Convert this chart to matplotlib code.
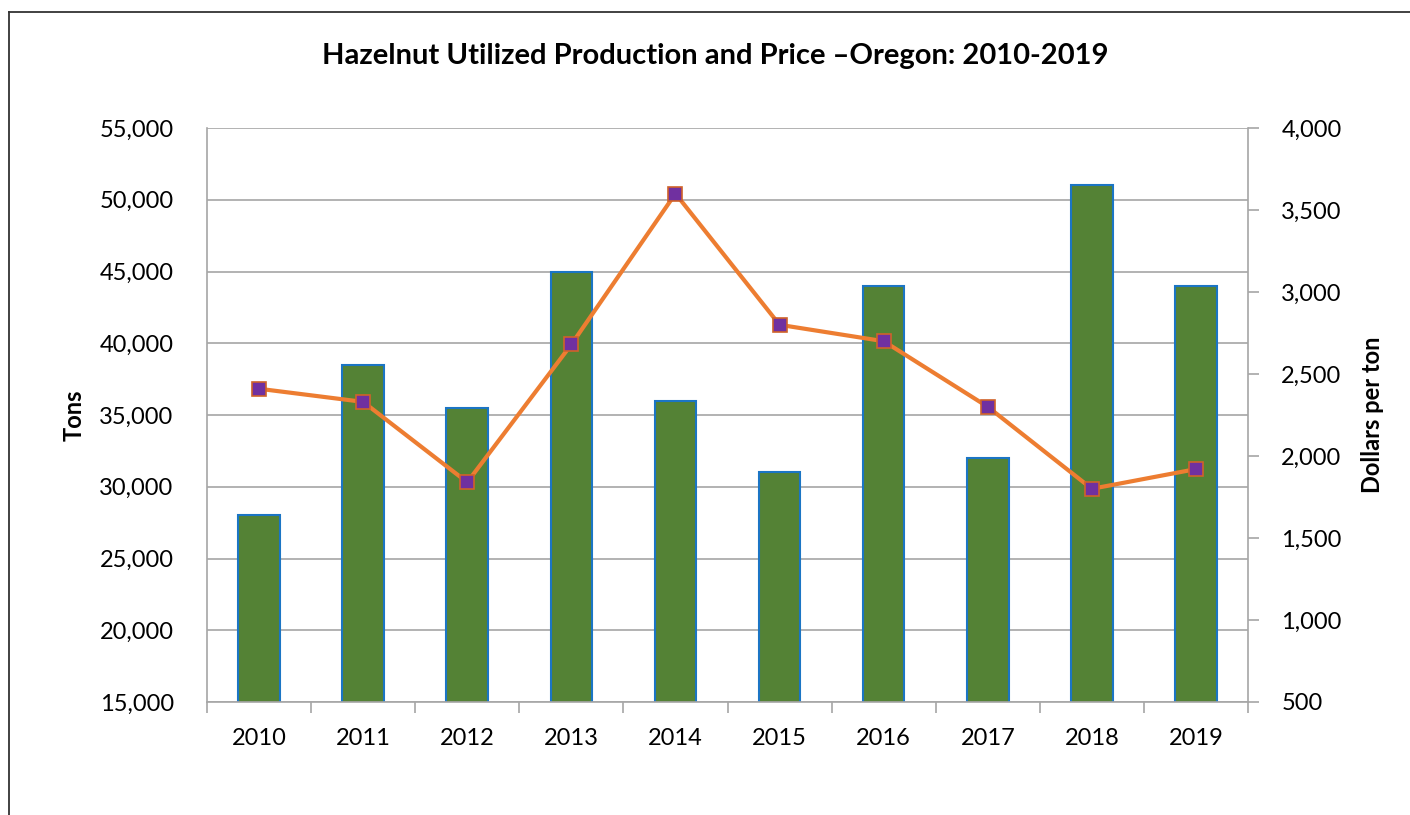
import matplotlib
matplotlib.use("Agg")
import matplotlib.pyplot as plt
from matplotlib.lines import Line2D
from matplotlib.ticker import FuncFormatter, MultipleLocator
import numpy as np

plt.rcParams['font.family'] = ['Lato', 'DejaVu Sans']

years = ['2010', '2011', '2012', '2013', '2014', '2015', '2016', '2017', '2018', '2019']
production_tons = [28000, 38500, 35500, 45000, 36000, 31000, 44000, 32000, 51000, 44000]
price_per_ton = [2410, 2330, 1840, 2680, 3600, 2800, 2700, 2300, 1800, 1920]

fig = plt.figure(figsize=(14.1, 8.15), dpi=100)
ax = fig.add_axes([207 / 1410, 1 - 702 / 815, (1248 - 207) / 1410, (702 - 128) / 815])
ax2 = ax.twinx()

x = np.arange(len(years))
ax.bar(x, production_tons, width=0.4, color='#548235', edgecolor='#1B75C4',
       linewidth=1.5, bottom=0, zorder=2)
ax.set_ylim(15000, 55000)
ax.set_xlim(-0.5, len(years) - 0.5)
ax.yaxis.set_major_locator(MultipleLocator(5000))
ax.yaxis.grid(True, color='#A6A6A6', linewidth=1.2, zorder=0)
ax.set_axisbelow(True)

ax2.plot(x, price_per_ton, color='#ED7D31', linewidth=3, marker='s', markersize=10,
         markerfacecolor='#7030A0', markeredgecolor='#D0622A', markeredgewidth=1.2, zorder=3)
ax2.set_ylim(500, 4000)
ax2.yaxis.set_major_locator(MultipleLocator(500))

fmt = FuncFormatter(lambda v, p: f'{v:,.0f}')
ax.yaxis.set_major_formatter(fmt)
ax2.yaxis.set_major_formatter(fmt)

ax.set_xticks(x)
ax.set_xticklabels(years)
ax.set_xticks(np.arange(len(years) + 1) - 0.5, minor=True)
ax.tick_params(axis='x', which='major', length=0, labelsize=17, pad=19)
ax.tick_params(axis='x', which='minor', length=8, color='#A6A6A6', width=1.2)
ax.tick_params(axis='y', length=0, labelsize=17, pad=24)
ax2.tick_params(axis='y', length=8, color='#A6A6A6', width=1.2, labelsize=17, pad=16)

for a in (ax, ax2):
    for s in a.spines.values():
        s.set_visible(False)
ax.spines['left'].set_visible(True)
ax.spines['bottom'].set_visible(True)
ax2.spines['right'].set_visible(True)
for s in (ax.spines['left'], ax.spines['bottom'], ax2.spines['right']):
    s.set_color('#A6A6A6')
    s.set_linewidth(1.2)

ax.set_ylabel('Tons', fontsize=17, fontweight='bold', labelpad=10)
ax2.set_ylabel('Dollars per ton', fontsize=17, fontweight='bold', labelpad=14)

fig.text(715 / 1410, 1 - 56 / 815, 'Hazelnut Utilized Production and Price \u2013Oregon: 2010-2019',
         ha='center', va='center', fontsize=21, fontweight='bold')

# chart border (right and bottom edges fall outside the picture)
fig.add_artist(Line2D([9 / 1410, 9 / 1410], [0, 1 - 12 / 815], color='#333333', linewidth=1.3))
fig.add_artist(Line2D([9 / 1410, 1], [1 - 12 / 815, 1 - 12 / 815], color='#333333', linewidth=1.3))

fig.savefig('out.png', dpi=100)
